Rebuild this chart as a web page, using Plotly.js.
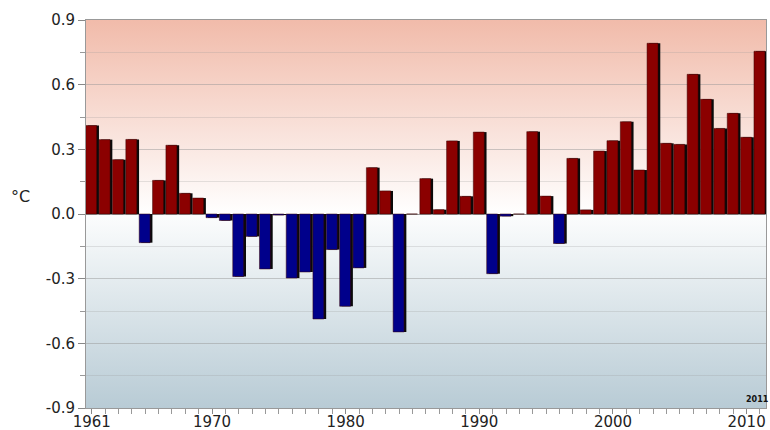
<!DOCTYPE html>
<html>
<head>
<meta charset="utf-8">
<script src="https://cdn.plot.ly/plotly-3.0.1.min.js"></script>
<style>html,body{margin:0;padding:0;background:#fff;}#chart{width:770px;height:430px;}</style>
</head>
<body>
<div id="chart"></div>
<script>
// Data
const years = [];
for (let y = 1961; y <= 2011; y++) years.push(y);
const anomalies = [
  0.41, 0.345, 0.252, 0.346, -0.133, 0.156, 0.319, 0.096, 0.074, -0.017,
  -0.03, -0.29, -0.104, -0.255, -0.005, -0.297, -0.269, -0.487, -0.165, -0.428,
  -0.25, 0.215, 0.107, -0.547, 0.0, 0.164, 0.02, 0.339, 0.082, 0.38,
  -0.277, -0.01, 0.0, 0.382, 0.083, -0.137, 0.258, 0.019, 0.292, 0.34,
  0.428, 0.204, 0.792, 0.328, 0.323, 0.648, 0.532, 0.397, 0.467, 0.356,
  0.755
];
const yTickVals = [-0.9, -0.6, -0.3, 0.0, 0.3, 0.6, 0.9];
const yTickText = ['-0.9', '-0.6', '-0.3', '0.0', '0.3', '0.6', '0.9'];
const xTickVals = [1961, 1970, 1980, 1990, 2000, 2010];
const xTickText = ['1961', '1970', '1980', '1990', '2000', '2010'];

const barColors = anomalies.map(v => v >= 0 ? '#8B0000' : '#00008B');

const shadow = {
  type: 'bar', x: years, y: anomalies,
  offset: -0.3, width: 0.84,
  marker: {color: '#0a0a0a'},
  hoverinfo: 'skip', showlegend: false
};
const bars = {
  type: 'bar', x: years, y: anomalies,
  offset: -0.45, width: 0.82,
  marker: {color: barColors, line: {color: '#3a0000', width: 0.5}},
  showlegend: false
};

const svg = '<svg xmlns="http://www.w3.org/2000/svg" width="100" height="100" preserveAspectRatio="none">' +
  '<defs><linearGradient id="g" x1="0" y1="0" x2="0" y2="1">' +
  '<stop offset="0" stop-color="#F1BBAA"/>' +
  '<stop offset="0.5" stop-color="#FFFFFF"/>' +
  '<stop offset="0.5" stop-color="#FCFDFD"/>' +
  '<stop offset="1" stop-color="#B8CBD5"/>' +
  '</linearGradient></defs><rect width="100" height="100" fill="url(#g)"/></svg>';
const bgSrc = 'data:image/svg+xml;charset=utf-8,' + encodeURIComponent(svg);

const font = 'DejaVu Sans, Verdana, sans-serif';
const layout = {
  width: 770, height: 430,
  margin: {l: 86, r: 4, t: 20, b: 22},
  paper_bgcolor: '#ffffff',
  plot_bgcolor: 'rgba(0,0,0,0)',
  barmode: 'overlay',
  font: {family: font, size: 15, color: '#222'},
  xaxis: {
    range: [1960.57, 2011.45],
    tickvals: xTickVals, ticktext: xTickText,
    ticks: 'outside', ticklen: 5, tickcolor: '#888',
    ticklabelstandoff: -5,
    showgrid: false, zeroline: false,
    showline: true, linecolor: '#999', linewidth: 1, mirror: true,
    minor: {dtick: 1, tick0: 1961, ticks: 'outside', ticklen: 5, tickcolor: '#999', showgrid: false},
    tickfont: {size: 15, color: '#222'}
  },
  yaxis: {
    range: [-0.9, 0.9],
    tickvals: yTickVals, ticktext: yTickText,
    ticks: 'outside', ticklen: 7, tickcolor: '#888',
    showgrid: true, gridcolor: 'rgba(150,150,150,0.3)', gridwidth: 1,
    minor: {dtick: 0.15, tick0: 0, ticks: 'outside', ticklen: 5, tickcolor: '#999', showgrid: true, gridcolor: 'rgba(150,150,150,0.25)'},
    zeroline: true, zerolinecolor: '#999', zerolinewidth: 1,
    showline: true, linecolor: '#999', linewidth: 1, mirror: true,
    tickfont: {size: 15, color: '#222'}
  },
  images: [{
    source: bgSrc, xref: 'paper', yref: 'paper',
    x: 0, y: 1, sizex: 1, sizey: 1,
    xanchor: 'left', yanchor: 'top',
    sizing: 'stretch', layer: 'below'
  }],
  annotations: [
    {text: '°C', xref: 'paper', yref: 'paper', x: -0.096, y: 0.546,
     xanchor: 'center', yanchor: 'middle',
     showarrow: false, font: {size: 16, color: '#222', family: font}},
    {text: '<b>2011</b>', xref: 'x', yref: 'paper', x: 2010.85, y: 0.005,
     xanchor: 'center', yanchor: 'bottom', showarrow: false,
     font: {size: 8, color: '#111', family: font}}
  ]
};

Plotly.newPlot('chart', [shadow, bars], layout, {displayModeBar: false, staticPlot: true});
</script>
</body>
</html>
